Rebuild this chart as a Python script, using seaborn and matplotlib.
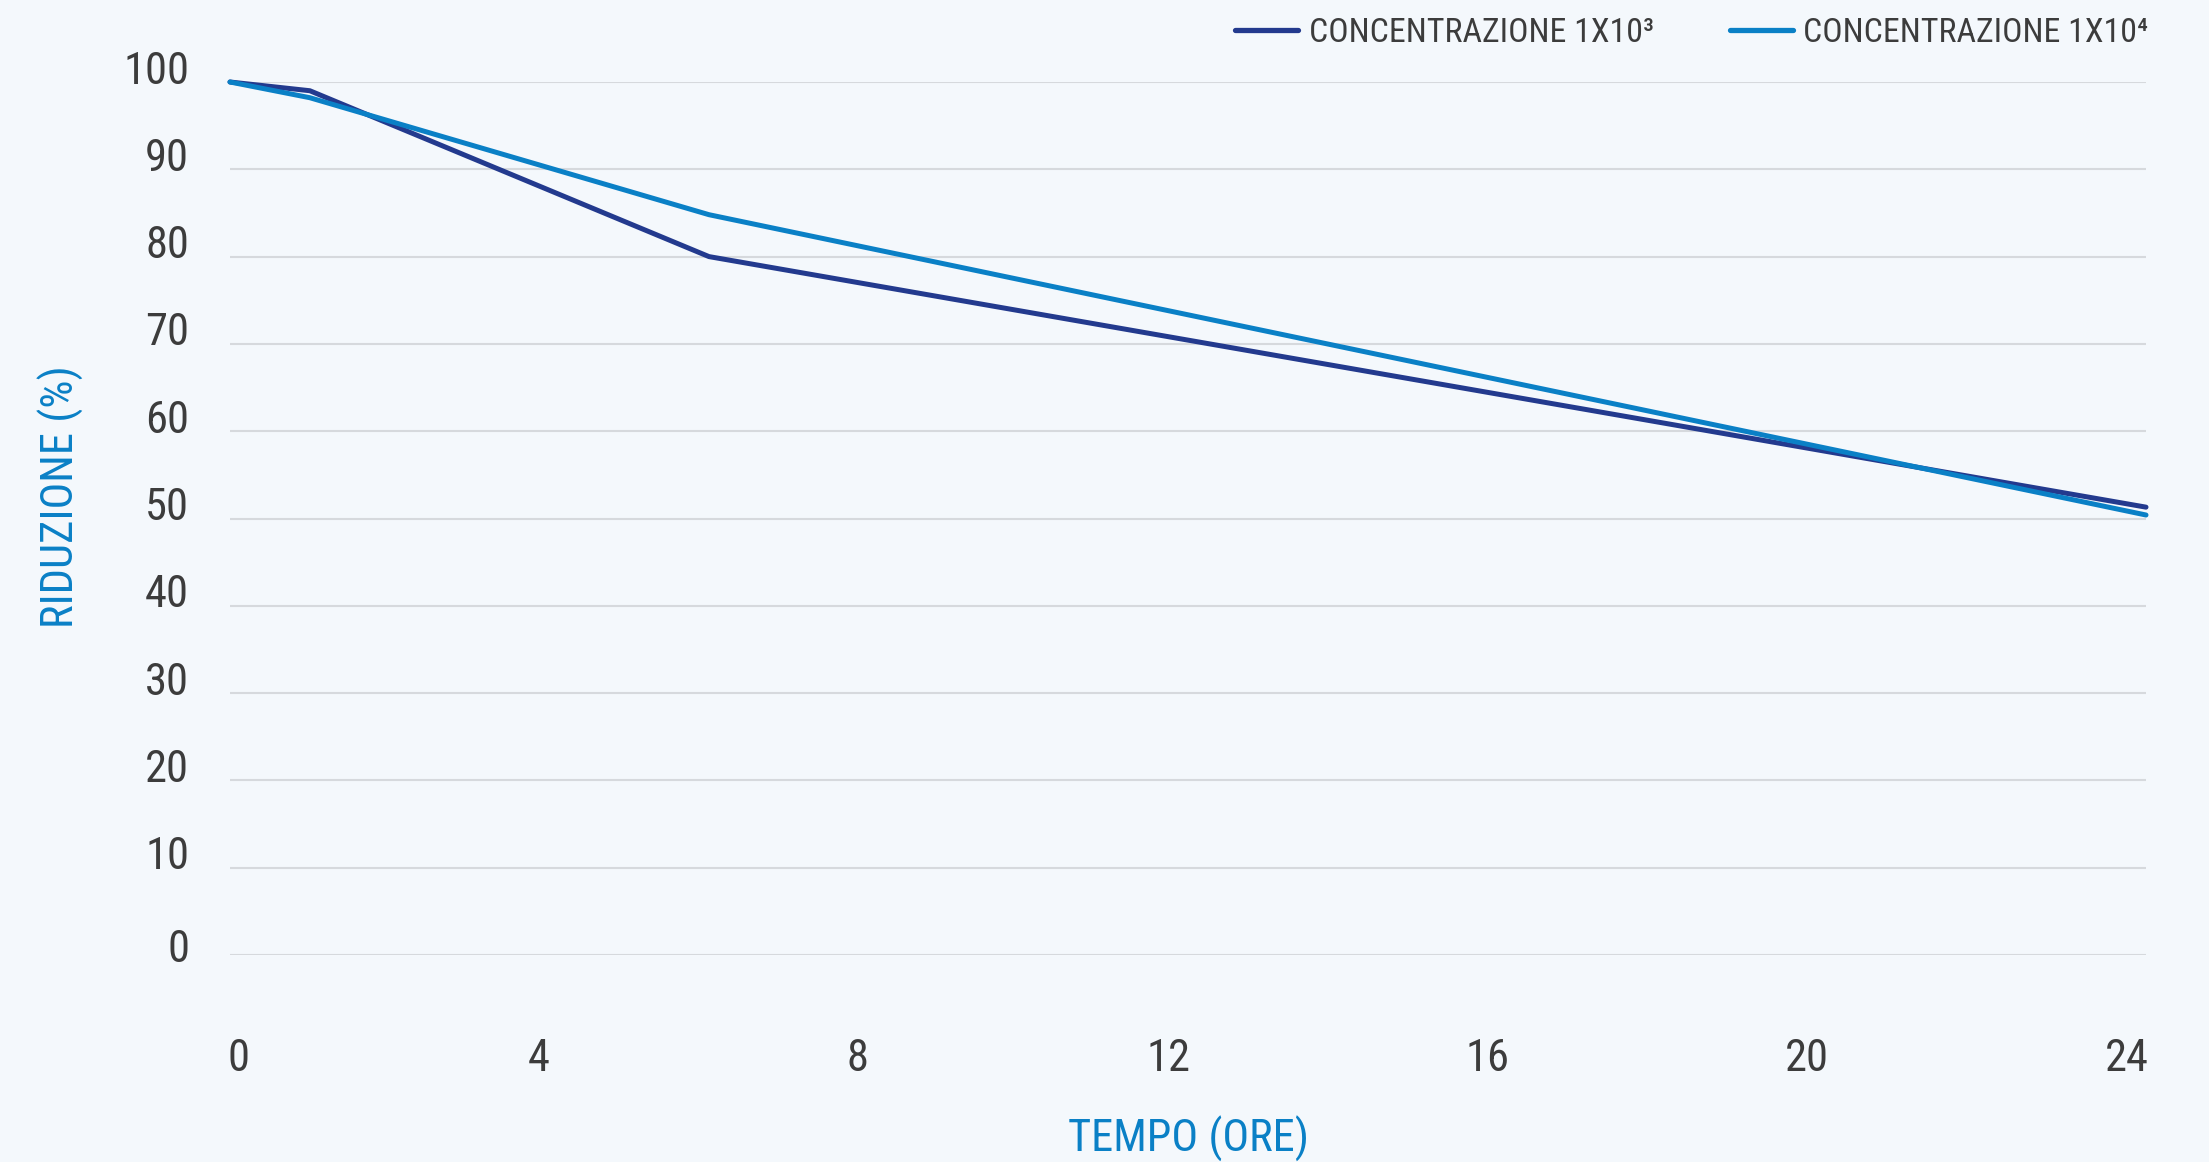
import matplotlib
matplotlib.use("Agg")
import matplotlib.pyplot as plt
import matplotlib.transforms as mtransforms
import pandas as pd
import seaborn as sns

# values
hours = [0, 1, 6, 24]
conc_1e3 = [100, 99.0, 80.0, 51.3]
conc_1e4 = [100, 98.2, 84.8, 50.4]
series_names = ["CONCENTRAZIONE 1X10\u00b3", "CONCENTRAZIONE 1X10\u2074"]
x_ticks = [0, 4, 8, 12, 16, 20, 24]
y_ticks = [0, 10, 20, 30, 40, 50, 60, 70, 80, 90, 100]

BG = "#f4f8fc"
TEXT = "#3c3c3c"
BLUE_LABEL = "#0a80c6"
palette = {series_names[0]: "#233a8e", series_names[1]: "#0a80c6"}

sns.set_style("white")
plt.rcParams['font.family'] = ['Roboto Condensed', 'Liberation Sans Narrow', 'Roboto', 'DejaVu Sans']
plt.rcParams['font.stretch'] = 'condensed'

df = pd.DataFrame({
    "ore": hours * 2,
    "riduzione": conc_1e3 + conc_1e4,
    "serie": [series_names[0]] * len(hours) + [series_names[1]] * len(hours),
})

W, H = 2209, 1162
fig = plt.figure(figsize=(W / 100, H / 100), dpi=100, facecolor=BG)
# plot area in pixels: left 230, right 2146, top 82 (=100), bottom 955 (=0)
ax = fig.add_axes([230 / W, 1 - 955 / H, (2146 - 230) / W, (955 - 82) / H])
ax.set_facecolor(BG)

sns.lineplot(data=df, x="ore", y="riduzione", hue="serie", palette=palette,
             linewidth=3.6, ax=ax, clip_on=False, solid_capstyle="round",
             solid_joinstyle="round", legend=True)

ax.set_xlim(0, 24)
ax.set_ylim(0, 100)
ax.set_xticks(x_ticks)
ax.set_yticks(y_ticks)
ax.set_xticklabels([str(v) for v in x_ticks])
ax.set_yticklabels([str(v) for v in y_ticks])
ax.tick_params(axis="both", length=0, labelsize=32, labelcolor=TEXT)
ax.tick_params(axis="y", pad=29.5)
ax.tick_params(axis="x", pad=60)
ax.grid(axis="y", color="#d6d9dd", linewidth=1.5)
ax.grid(axis="x", visible=False)
ax.set_axisbelow(True)
for s in ax.spines.values():
    s.set_visible(False)
ax.set_xlabel("")
ax.set_ylabel("")

# small label nudges (pixels) as in the original layout
x_shift = [9, -11, -11, -20, -20, -20, -19]
for dx, lab in zip(x_shift, ax.get_xticklabels()):
    lab.set_transform(lab.get_transform() + mtransforms.ScaledTranslation(dx / 100, 0, fig.dpi_scale_trans))
for v, lab in zip(y_ticks, ax.get_yticklabels()):
    dy = 9 if v == 0 else 15
    lab.set_transform(lab.get_transform() + mtransforms.ScaledTranslation(0, dy / 100, fig.dpi_scale_trans))

fig.text(1188 / W, 1 - 1152 / H, "TEMPO (ORE)", color=BLUE_LABEL, fontsize=32,
         ha="center", va="baseline")
fig.text(74 / W, 1 - 497 / H, "RIDUZIONE (%)", color=BLUE_LABEL, fontsize=32,
         ha="center", va="baseline", rotation=90, rotation_mode="anchor")

handles, labels = ax.get_legend_handles_labels()
leg = ax.legend(handles, labels, loc="center right", ncol=2, frameon=False,
                bbox_to_anchor=(2148 / W, 1 - 33 / H), bbox_transform=fig.transFigure,
                fontsize=24.4, handlelength=1.86, handletextpad=0.3, columnspacing=2.24,
                borderpad=0, borderaxespad=0)
for t in leg.get_texts():
    t.set_color(TEXT)
for ln in leg.get_lines():
    ln.set_linewidth(3.8)
    ln.set_solid_capstyle("round")

fig.savefig("out.png", dpi=100, facecolor=BG)
